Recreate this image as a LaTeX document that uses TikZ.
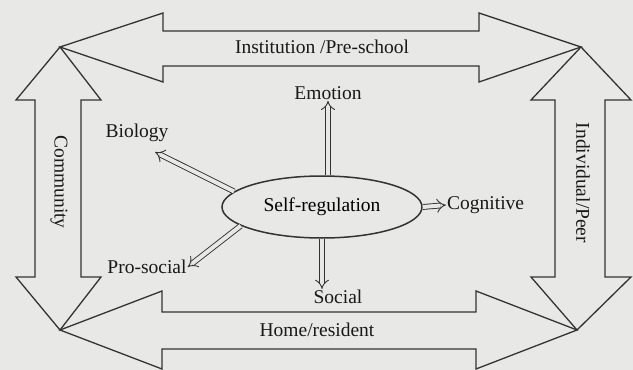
\documentclass[tikz,border=0pt]{standalone}
\usepackage{fontspec}
\setmainfont{Liberation Serif}
\usepackage{xcolor}
\definecolor{PaperGray}{HTML}{E8E8E6}
\definecolor{InkGray}{HTML}{333333}
\usetikzlibrary{arrows.meta,positioning,shapes.geometric}

\begin{document}
\begin{tikzpicture}[x=1pt,y=-1pt,
  big/.style={draw=InkGray,line width=1.3pt,line join=miter,fill=PaperGray},
  lbl/.style={font=\fontsize{19.5}{22}\selectfont,text=black!90,inner sep=1pt},
  core/.style={ellipse,draw=InkGray,line width=1.5pt,minimum width=200pt,
    minimum height=62pt,inner sep=0pt,font=\fontsize{19.5}{22}\selectfont},
  sarr/.style={draw=InkGray,line width=0.9pt,double=PaperGray,
    double distance=4pt,-{Implies[length=9pt,width=14pt]}}]
  \fill[PaperGray] (0,0) rectangle (633,370);
  \useasboundingbox (0,0) rectangle (633,370);
  % corner tips
  \coordinate (TL) at (60,47);
  \coordinate (TR) at (581,47);
  \coordinate (BL) at (60,330);
  \coordinate (BR) at (577,330);
  % outer double arrows
  \draw[big] (TL) -- (163,13) -- (163,31) -- (479,31) -- (479,13) -- (TR)
    -- (479,82) -- (479,66) -- (163,66) -- (163,82) -- cycle;
  \draw[big] (BL) -- (162,291) -- (162,312) -- (476,312) -- (476,291) -- (BR)
    -- (476,369) -- (476,349) -- (162,349) -- (162,369) -- cycle;
  \draw[big] (TL) -- (101,100) -- (81,100) -- (81,277) -- (101,277) -- (BL)
    -- (16,277) -- (35,277) -- (35,100) -- (16,100) -- cycle;
  \draw[big] (TR) -- (631,100) -- (605,100) -- (605,277) -- (631,277) -- (BR)
    -- (531,277) -- (555,277) -- (555,100) -- (531,100) -- cycle;
  \node[lbl] (inst) at (322,47) {Institution /Pre-school};
  \node[lbl] (home) at (317,330) {Home/resident};
  \node[lbl,rotate=-90] (comm) at (59,182) {Community};
  \node[lbl,rotate=-90] (indiv) at (583,183) {Individual/Peer};
  % centre
  \node[core] (sr) at (322,207) {Self-regulation};
  \node[lbl] (emo) at (328,93) {Emotion};
  \node[lbl] (bio) at (137,133) {Biology};
  \node[lbl,anchor=west] (cog) at (446,205) {Cognitive};
  \node[lbl] (soc) at (338,297) {Social};
  \node[lbl] (pro) at (147,267) {Pro-social};
  \coordinate (bioTip) at (155,152);
  \draw[sarr] (emo.south |- sr.north) -- (emo.south);
  \draw[sarr] (sr.south) -- (sr.south |- soc.north);
  \draw[sarr] (sr.east) -- (cog.west);
  \draw[sarr] (sr.170) -- (bioTip);
  \draw[sarr] (sr.193) -- (pro.east);
\end{tikzpicture}
\end{document}
